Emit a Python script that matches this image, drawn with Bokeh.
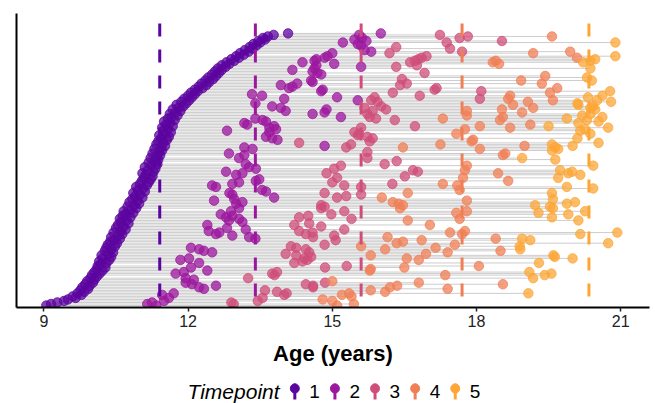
import numpy as np
from bokeh.plotting import figure
from bokeh.models import Range1d, FixedTicker, Span
from bokeh.layouts import column
from bokeh.embed import file_html
from bokeh.resources import INLINE
from bokeh.core.properties import value

NA = None

# Age (years) of each participant at each timepoint; rows ordered (roughly) by age at timepoint 1
age_t1 = [
    9.05, 9.15, 9.28, 9.42, 9.50, 9.66, 9.60, 9.78, 9.70, 9.84, 9.76, 9.92, 9.80, 9.95, 9.86, 10.02, 9.90, 10.05, 9.97, 10.10,
    10.00, 10.16, 10.05, 10.22, 10.10, 10.28, 10.12, 10.18, 10.30, 10.15, 10.36, 10.22, 10.40, 10.20, 10.34, 10.44, 10.27, 10.40, 10.30, 10.48,
    10.33, 10.52, 10.38, 10.46, 10.58, 10.40, 10.55, 10.63, 10.45, 10.60, 10.70, 10.50, 10.66, 10.54, 10.76, 10.60, 10.72, 10.58, 10.80, 10.64,
    10.70, 10.86, 10.66, 10.80, 10.92, 10.74, 10.88, 10.98, 10.78, 10.95, 10.84, 11.05, 10.90, 11.00, 10.86, 11.10, 10.96, 11.06, 10.92, 11.14,
    11.00, 11.18, 11.04, 11.22, 11.08, 11.26, 11.12, 11.05, 11.28, 11.16, 11.32, 11.10, 11.24, 11.36, 11.18, 11.30, 11.38, 11.22, 11.34, 11.42,
    11.26, 11.40, 11.46, 11.30, 11.44, 11.52, 11.34, 11.48, 11.38, 11.56, 11.44, 11.60, 11.40, 11.52, 11.64, 11.48, 11.58, 11.46, 11.68, 11.54,
    11.62, 11.50, 11.72, 11.58, 11.66, 11.78, 11.62, 11.74, 11.84, 11.68, 11.80, 11.90, 11.76, 11.96, 11.86, 12.02, 11.92, 12.08, 12.00, 12.14,
    12.06, 12.20, 12.14, 12.30, 12.22, 12.38, 12.28, 12.44, 12.36, 12.52, 12.42, 12.58, 12.50, 12.64, 12.56, 12.70, 12.62, 12.78, 12.70, 12.86,
    12.80, 12.96, 12.90, 13.06, 13.00, 13.16, 13.08, 13.26, 13.18, 13.34, 13.28, 13.42, 13.36, 13.50, 13.46, 13.60, 13.56, 13.66, 13.78, 14.08,
]
age_t2 = [
    11.34, 11.15, 11.25, 11.50, NA, 11.60, NA, 11.46, 11.70, NA, NA, 12.33, 12.23, 12.58, 12.08, 11.95, NA, 12.12, 11.95, NA,
    NA, 11.74, 11.91, 12.40, NA, 12.06, NA, NA, 12.23, NA, 11.84, 12.02, NA, NA, NA, 12.50, 12.33, 12.23, 12.06, NA,
    NA, NA, NA, NA, 13.40, 13.27, 12.92, 12.58, 12.65, 12.43, 13.20, 12.81, NA, 12.40, NA, 13.13, 12.85, 13.06, 12.79, 12.92,
    12.68, NA, 12.89, NA, 13.06, NA, NA, 13.00, 13.13, 12.54, 12.96, 13.79, NA, 12.92, 12.86, 13.62, 13.54, NA, 12.58, 12.50,
    12.92, 13.06, 13.41, 13.48, NA, NA, 13.00, 13.13, 12.79, NA, 13.41, 13.27, NA, 13.20, NA, NA, NA, 13.06, NA, 13.17,
    12.85, NA, NA, 13.34, 13.17, 14.84, NA, NA, NA, 13.86, 13.75, 13.62, NA, NA, 13.69, 12.81, 13.83, 13.69, 13.79, 13.23,
    13.17, 13.62, 13.55, 13.40, 15.18, NA, 14.59, 14.84, 14.03, 14.88, 13.93, 13.75, NA, 13.40, NA, 15.53, 14.00, 15.10, 13.54, 13.33,
    NA, 14.77, 14.80, 14.10, 14.17, 13.93, 14.27, 14.59, 14.56, NA, NA, NA, 14.77, 14.69, 14.59, 14.17, 14.63, 15.60, 14.67, 15.04,
    14.38, 14.63, 14.67, 14.84, 14.90, NA, 15.00, 15.81, 15.67, NA, NA, 15.60, 15.53, 15.22, 15.71, 15.46, 15.62, NA, 15.56, 16.01,
]
age_t3 = [
    NA, 12.95, 12.90, 13.45, NA, 13.55, NA, 14.00, 14.05, 13.85, 13.60, NA, 14.60, 14.60, 14.45, 14.85, NA, NA, 13.25, NA,
    13.80, 13.75, 13.85, NA, NA, 14.85, 15.30, NA, 14.21, 14.38, 14.48, 14.42, 14.56, 14.25, 14.03, 14.52, NA, 14.45, 14.25, 14.14,
    14.84, NA, NA, 15.07, NA, 14.60, 15.04, 14.45, 14.59, 14.31, 15.25, NA, 14.77, 14.21, 14.52, NA, NA, 15.40, 14.31, 14.50,
    14.98, NA, 15.25, NA, 14.77, 14.84, 14.77, NA, NA, NA, NA, 15.10, 15.29, 15.60, 14.84, NA, NA, NA, 15.60, 15.25,
    16.25, 15.00, NA, NA, 15.10, 16.51, NA, 14.88, 16.78, 16.68, 15.04, NA, 15.18, 16.09, NA, 16.34, NA, 15.73, NA, NA,
    NA, 15.73, NA, NA, 15.29, NA, 15.39, 14.31, 15.78, NA, 15.84, 15.73, 15.53, 15.56, 15.46, NA, NA, 15.60, 16.72, NA,
    NA, NA, 16.30, 15.91, 15.78, NA, 15.73, NA, 15.84, 16.12, 15.67, 16.02, NA, NA, 15.94, 15.81, 18.07, 15.88, 16.82, NA,
    16.26, 18.10, 17.13, 17.17, NA, 16.41, 16.55, NA, NA, 16.45, NA, NA, NA, 16.92, NA, NA, NA, 16.33, 16.76, NA,
    16.62, 16.72, 16.79, 16.86, 16.96, NA, 16.19, 17.70, NA, 17.45, 16.33, NA, NA, 17.38, 18.53, NA, 17.65, 17.82, 17.24, NA,
]
age_t4 = [
    15.10, 15.45, NA, 15.00, 14.80, NA, 15.40, 15.20, 15.35, 16.10, 15.80, 17.40, 16.20, 16.35, 18.55, 16.80, 15.00, NA, NA, NA,
    17.35, NA, NA, 15.78, 15.80, 16.50, 18.05, NA, NA, NA, 16.80, 16.55, NA, 15.80, 16.95, 17.40, 18.50, 16.10, 17.15, 15.60,
    17.55, 16.34, 16.47, 16.86, 18.40, 16.15, NA, 17.70, 17.45, 17.76, NA, NA, NA, 17.03, NA, NA, 16.57, 17.65, NA, NA,
    NA, 17.58, 17.80, NA, 16.41, NA, 16.47, 16.38, 16.26, 17.80, NA, 16.03, NA, NA, 16.57, NA, 17.65, NA, NA, 17.60,
    17.30, NA, 18.66, NA, 17.72, NA, NA, 18.45, NA, 17.76, NA, NA, 17.80, NA, NA, NA, NA, NA, NA, 18.55,
    18.60, NA, NA, 18.07, 16.47, 19.00, 17.25, NA, 17.90, 17.93, NA, NA, NA, 17.58, NA, NA, 17.76, 18.70, 18.07, 19.12,
    NA, NA, 18.49, 17.30, 18.55, 17.80, NA, 18.95, 17.80, 18.53, 19.18, NA, 18.76, NA, 19.07, 19.59, 18.66, NA, 18.70, NA,
    19.53, NA, NA, 19.68, NA, NA, 19.36, NA, 18.93, NA, NA, 19.43, NA, NA, NA, NA, NA, NA, NA, 18.47,
    18.34, 18.40, NA, 20.09, NA, NA, 19.18, 19.95, NA, NA, NA, NA, NA, NA, NA, NA, NA, 19.57, NA, NA,
]
age_t5 = [
    NA, NA, NA, NA, NA, NA, NA, NA, 19.08, NA, NA, NA, NA, NA, NA, NA, NA, NA, 19.18, NA,
    19.42, 19.56, 19.10, NA, NA, NA, NA, NA, 19.30, NA, NA, 20.00, 19.63, 19.60, NA, NA, NA, 18.91, NA, 18.90,
    NA, 20.74, NA, 19.12, 18.95, NA, NA, 20.16, 20.93, NA, NA, NA, NA, NA, NA, NA, 20.12, NA, 19.57, NA,
    19.91, 19.29, 20.26, NA, 19.59, 19.53, 19.22, 19.88, 20.05, NA, 19.59, NA, NA, NA, 19.57, NA, NA, 20.43, 19.88, NA,
    NA, NA, NA, NA, 19.70, NA, 20.16, 19.91, 19.99, 19.74, NA, NA, 20.43, NA, NA, NA, 19.64, 18.95, NA, NA,
    NA, NA, 19.57, 19.70, 19.64, 20.00, 19.57, 20.54, NA, NA, 20.10, NA, NA, 20.37, NA, 20.16, 20.26, 20.74, 19.50, NA,
    20.12, 20.54, 20.30, 19.88, 20.62, 20.20, 20.37, NA, NA, 20.47, 20.37, 20.43, 20.12, 20.10, 20.80, 20.51, NA, 20.32, 20.62, NA,
    NA, 20.78, NA, NA, NA, NA, NA, NA, 20.40, NA, 20.30, NA, NA, NA, NA, NA, 20.37, NA, NA, NA,
    20.22, 20.37, 20.47, NA, 20.89, NA, NA, NA, NA, NA, NA, NA, NA, 20.89, NA, NA, NA, NA, NA, NA,
]

timepoints = ["1", "2", "3", "4", "5"]
tp_colors = ["#5c049f", "#9c179e", "#cf4d79", "#f07f55", "#fca636"]
mean_age = [11.41, 13.40, 15.60, 17.70, 20.34]
x_ticks = [9, 12, 15, 18, 21]

FONT = "Liberation Sans"

ages = np.array([age_t1, age_t2, age_t3, age_t4, age_t5], dtype=float)
n_sub = ages.shape[1]
rank = np.arange(n_sub)
lo = np.nanmin(ages, axis=0)
hi = np.nanmax(ages, axis=0)

p = figure(width=655, height=372, x_range=Range1d(8.43, 21.6), y_range=Range1d(-1.3, 192.1),
           output_backend="svg", toolbar_location=None,
           min_border_left=16, min_border_right=6, min_border_top=13, min_border_bottom=65)
p.outline_line_color = None
p.grid.visible = False
p.background_fill_color = "white"
p.border_fill_color = "white"

p.segment(x0=lo, y0=rank, x1=hi, y1=rank, line_color="#cdcdcd", line_width=1)

for k in range(5):
    c = tp_colors[k]
    p.scatter(x=ages[k], y=rank, size=9.5, fill_color=c, line_color=c,
              fill_alpha=0.75, line_alpha=0.75)

for k in range(5):
    p.add_layout(Span(location=mean_age[k], dimension="height", line_color=tp_colors[k],
                      line_width=3, line_dash="13 13", line_dash_offset=16))

xa = p.xaxis[0]
xa.ticker = FixedTicker(ticks=x_ticks)
xa.axis_label = "Age (years)"
xa.axis_label_text_font = FONT
xa.axis_label_text_font_style = "bold"
xa.axis_label_text_font_size = "22px"
xa.axis_label_text_color = "black"
xa.axis_label_standoff = 11
xa.major_label_text_font = FONT
xa.major_label_text_font_size = "16px"
xa.major_label_text_color = "#222222"
xa.major_label_standoff = 3
xa.axis_line_width = 2
xa.axis_line_color = "black"
xa.major_tick_in = 0
xa.major_tick_out = 4
xa.major_tick_line_width = 1.5
xa.major_tick_line_color = "#222222"
xa.minor_tick_line_color = None

ya = p.yaxis[0]
ya.ticker = FixedTicker(ticks=[])
ya.major_tick_line_color = None
ya.minor_tick_line_color = None
ya.axis_line_width = 2
ya.axis_line_color = "black"

# legend strip
lg = figure(width=655, height=31, x_range=Range1d(0, 655), y_range=Range1d(0, 31),
            output_backend="svg", toolbar_location=None, min_border=0,
            x_axis_type=None, y_axis_type=None)
lg.outline_line_color = None
lg.grid.visible = False

lg.text(x=[177], y=[12], text=["Timepoint"], text_font=value(FONT), text_font_style="italic",
        text_font_size="21px", text_align="left", text_baseline="middle", text_color="black")
key_x = [288 + 41.5 * i for i in range(5)]
lg.segment(x0=key_x, y0=[4] * 5, x1=key_x, y1=[20] * 5, line_color=tp_colors, line_width=3)
lg.scatter(x=key_x, y=[15] * 5, size=9, fill_color=tp_colors, line_color=tp_colors)
lg.text(x=[kx + 15 for kx in key_x], y=[12] * 5, text=timepoints, text_font=value(FONT),
        text_font_size="19px", text_align="left", text_baseline="middle", text_color="black")

layout = column(p, lg, spacing=0)
open("out.html", "w").write(file_html(layout, INLINE))
